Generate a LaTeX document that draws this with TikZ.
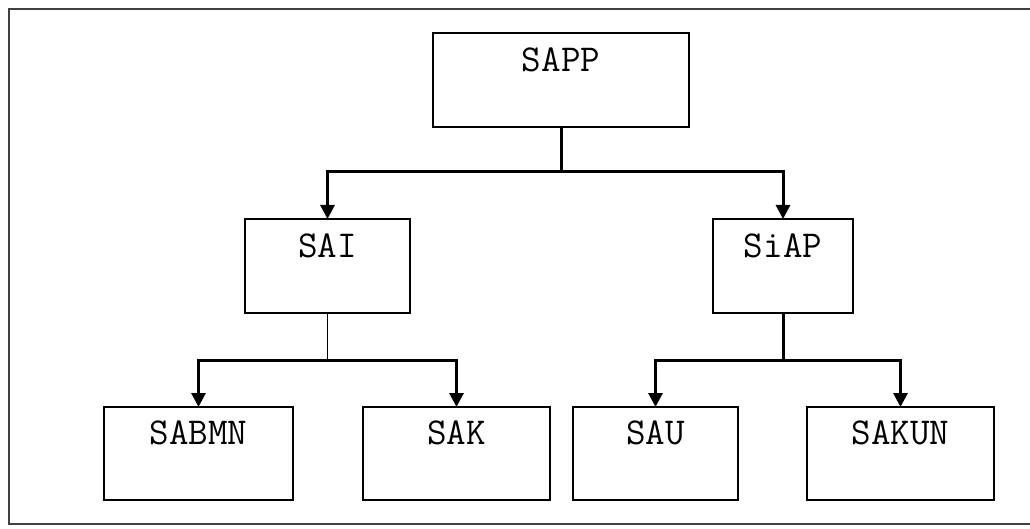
\documentclass[tikz,border=0pt]{standalone}
\usepackage{tikz}
\usetikzlibrary{arrows.meta}

\begin{document}
\begin{tikzpicture}[x=1pt, y=-1pt,
    unitbox/.style={draw, line width=1.6pt, inner sep=0pt, outer sep=0pt, minimum height=94pt},
    unitname/.style={anchor=base, inner sep=0pt, font=\ttfamily\fontsize{38}{42}\selectfont},
    link/.style={line width=3pt, -{Triangle[length=14pt, width=14pt]}},
    stem/.style={line width=3pt}]
    \useasboundingbox (0,0) rectangle (1030,529);
    \draw[line width=2.4pt, black!75] (1032,9) -- (9,9) -- (9,524) -- (1032,524);
    %
    \node[unitbox, minimum width=256pt] (sapp) at (561,80) {};
    \node[unitname] (sapptxt) at ([yshift=-39pt]sapp.north) {SAPP};
    \node[unitbox, minimum width=165pt] (sai) at (327.5,266) {};
    \node[unitname] (saitxt) at ([yshift=-39pt]sai.north) {SAI};
    \node[unitbox, minimum width=140pt] (siap) at (783,266) {};
    \node[unitname] (siaptxt) at ([yshift=-39pt]siap.north) {SiAP};
    \node[unitbox, minimum width=189pt, minimum height=93pt] (sabmn) at (198.5,453.5) {};
    \node[unitname] (sabmntxt) at ([yshift=-37pt]sabmn.north) {SABMN};
    \node[unitbox, minimum width=187pt, minimum height=93pt] (sak) at (456.5,453.5) {};
    \node[unitname] (saktxt) at ([yshift=-37pt]sak.north) {SAK};
    \node[unitbox, minimum width=165pt, minimum height=93pt] (sau) at (655.5,453.5) {};
    \node[unitname] (sautxt) at ([yshift=-37pt]sau.north) {SAU};
    \node[unitbox, minimum width=187pt, minimum height=93pt] (sakun) at (900.5,453.5) {};
    \node[unitname] (sakuntxt) at ([yshift=-37pt]sakun.north) {SAKUN};
    %
    \coordinate (topbus) at (561,172);
    \coordinate (leftbus) at (327.5,360);
    \coordinate (rightbus) at (783,360);
    \draw[stem] (sapp.south) -- (topbus);
    \draw[link] (topbus) -| (sai.north);
    \draw[link] (topbus) -| (siap.north);
    \draw[line width=1.6pt] (sai.south) -- (leftbus);
    \draw[link] (leftbus) -| (sabmn.north);
    \draw[link] (leftbus) -| (sak.north);
    \draw[stem] (siap.south) -- (rightbus);
    \draw[link] (rightbus) -| (sau.north);
    \draw[link] (rightbus) -| (sakun.north);
    %
\end{tikzpicture}
\end{document}
